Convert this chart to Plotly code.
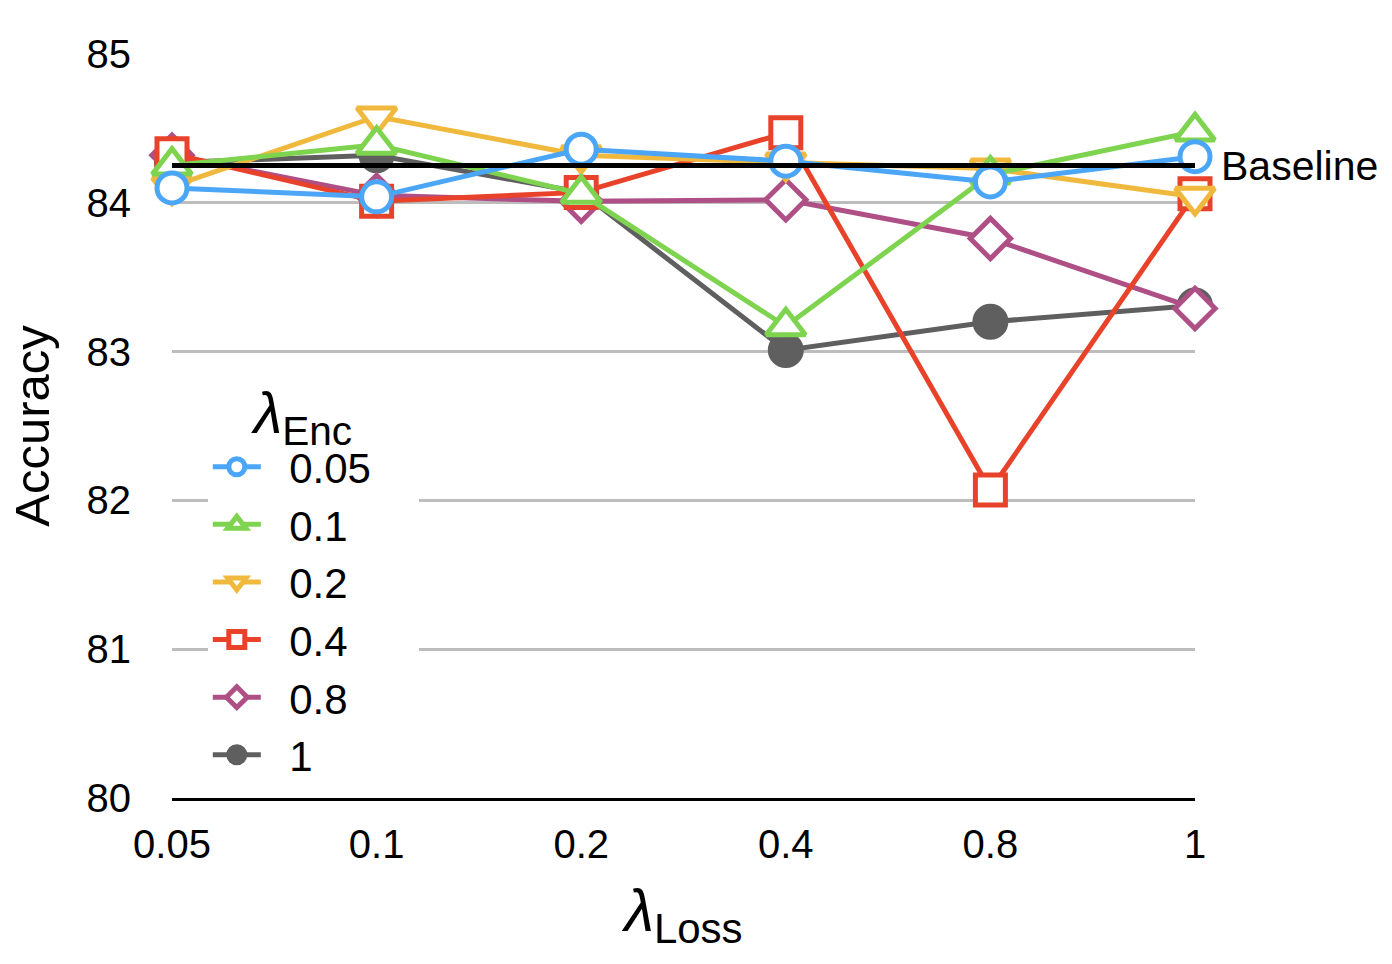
import plotly.graph_objects as go

x_labels = ["0.05", "0.1", "0.2", "0.4", "0.8", "1"]
series_names = ["0.05", "0.1", "0.2", "0.4", "0.8", "1"]

acc_005 = [84.10, 84.04, 84.36, 84.28, 84.14, 84.31]
acc_01 = [84.25, 84.39, 84.06, 83.17, 84.19, 84.48]
acc_02 = [84.11, 84.58, 84.32, 84.27, 84.23, 84.04]
acc_04 = [84.33, 84.01, 84.07, 84.47, 82.07, 84.06]
acc_08 = [84.32, 84.05, 84.01, 84.02, 83.76, 83.29]
acc_1 = [84.27, 84.32, 84.07, 83.01, 83.20, 83.31]
baseline = 84.25

values = [acc_005, acc_01, acc_02, acc_04, acc_08, acc_1]
colors = ["#4BA6F7", "#7ED34F", "#F0B93D", "#E8432A", "#AE4F86", "#5F5F5F"]
symbols = ["circle", "triangle-up", "triangle-down", "square", "diamond", "circle"]
fills = ["white", "white", "white", "white", "white", "#5F5F5F"]
sizes = [30, 34, 34, 30, 31, 31]

FONT = "Liberation Sans, Arial, sans-serif"
PAD = "&nbsp;&nbsp;"

fig = go.Figure()
# draw in reverse so that the first series sits on top
for name, vals, col, sym, fill, sz in reversed(list(zip(series_names, values, colors, symbols, fills, sizes))):
    fig.add_trace(go.Scatter(
        x=x_labels, y=vals, name=PAD + name, mode="lines+markers",
        line=dict(color=col, width=5),
        marker=dict(symbol=sym, size=sz, color=fill, line=dict(color=col, width=5)),
        cliponaxis=False,
    ))

fig.add_trace(go.Scatter(
    x=[x_labels[0], x_labels[-1]], y=[baseline, baseline], mode="lines",
    line=dict(color="black", width=5), showlegend=False, cliponaxis=False,
))
fig.add_annotation(xref="paper", x=1, y=baseline, text="Baseline", showarrow=False,
                   xanchor="left", xshift=24, yanchor="middle",
                   font=dict(size=41, color="black", family=FONT))

fig.update_layout(
    width=1392, height=964,
    margin=dict(l=172, r=197, t=54, b=166),
    plot_bgcolor="white", paper_bgcolor="white",
    font=dict(family=FONT, color="black"),
    showlegend=True,
    legend=dict(
        x=0.035, y=0.592, xanchor="left", yanchor="top",
        bgcolor="white", borderwidth=0,
        font=dict(size=42, family=FONT, color="black"),
        title=dict(text="&nbsp;&nbsp;&#8201;<i>λ</i><sub>Enc</sub>&nbsp;&nbsp;&nbsp;&nbsp;",
                   font=dict(size=58, family=FONT), side="top"),
        itemwidth=48, traceorder="reversed",
    ),
    xaxis=dict(
        type="category", range=[0, 5], showgrid=False,
        showline=True, linecolor="black", linewidth=3,
        ticks="", tickfont=dict(size=40, family=FONT), ticklabelstandoff=9,
        title=dict(text="<i>λ</i><sub>Loss</sub>", font=dict(size=60, family=FONT), standoff=24),
        zeroline=False,
    ),
    yaxis=dict(
        range=[80, 85], dtick=1, showgrid=True, gridcolor="#BDBDBD", gridwidth=2.5,
        showline=False, zeroline=False, ticks="",
        tickfont=dict(size=40, family=FONT), ticklabelstandoff=40,
        title=dict(text="Accuracy", font=dict(size=49, family=FONT), standoff=21),
    ),
)

fig.write_html("out.html")
